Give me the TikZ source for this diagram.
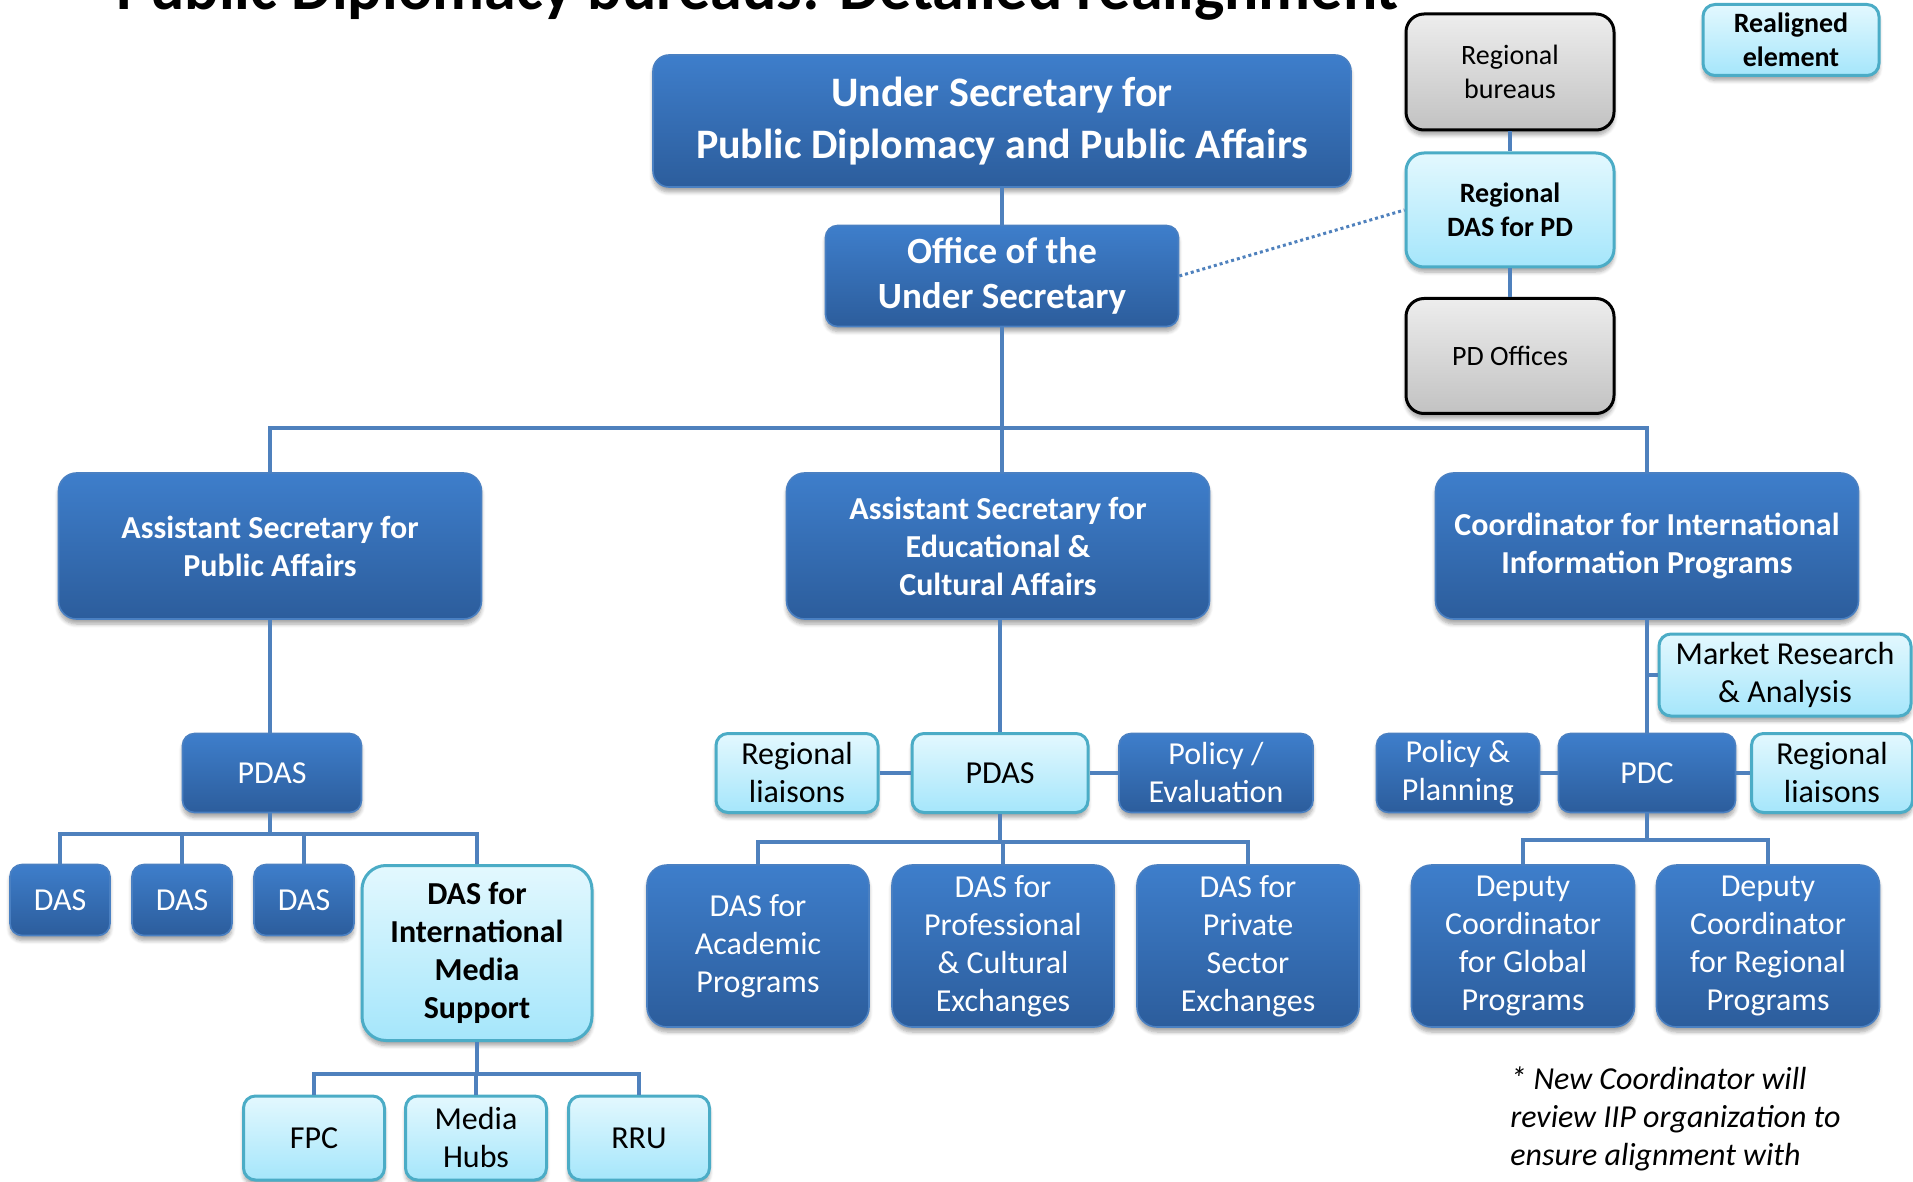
\documentclass[tikz,border=0pt]{standalone}
\usepackage{fontspec}
\setmainfont{Carlito}
\usetikzlibrary{shadows.blur}

\definecolor{darktop}{HTML}{3E7ECB}
\definecolor{darkbot}{HTML}{2C5D9C}
\definecolor{darkedge}{HTML}{4A80C2}
\definecolor{lighttop}{HTML}{E3F8FE}
\definecolor{lightbot}{HTML}{A5E6FB}
\definecolor{lightedge}{HTML}{4BACC6}
\definecolor{graytop}{HTML}{EDEDED}
\definecolor{graybot}{HTML}{C2C2C2}
\definecolor{linkblue}{HTML}{4F81BD}

\tikzset{
  box/.style={rounded corners=6pt, align=center, inner sep=2pt,
    blur shadow={shadow xshift=0pt, shadow yshift=-2.5pt, shadow blur steps=6, shadow opacity=35}},
  darkbox/.style={box, top color=darktop, bottom color=darkbot, draw=darkedge, line width=0.8pt, text=white},
  lightbox/.style={box, top color=lighttop, bottom color=lightbot, draw=lightedge, line width=1.5pt, text=black},
  graybox/.style={box, top color=graytop, bottom color=graybot, draw=black, line width=1.5pt, text=black},
  link/.style={draw=linkblue, line width=2pt},
  ftop/.style={font=\fontsize{21}{26}\selectfont\bfseries},
  foffice/.style={font=\fontsize{18.5}{22.5}\selectfont\bfseries},
  flevel/.style={font=\fontsize{16}{19}\selectfont\bfseries},
  fbox/.style={font=\fontsize{16}{19}\selectfont},
  fsmall/.style={font=\fontsize{14}{17}\selectfont},
  fsmallb/.style={font=\fontsize{14}{17}\selectfont\bfseries},
}

\begin{document}
\begin{tikzpicture}[x=0.5pt,y=-0.5pt]
\useasboundingbox (0,0) rectangle (1913,1182);

\node[anchor=base west, inner sep=0, font=\fontsize{32}{38}\selectfont\bfseries] (title) at (116,10) {Public Diplomacy bureaus: Detailed realignment};

\node[darkbox, ftop, rounded corners=8pt, minimum width=349pt, minimum height=66pt] (under) at (1002,121) {Under Secretary for\\Public Diplomacy and Public Affairs};
\node[darkbox, foffice, minimum width=176.5pt, minimum height=50.5pt] (office) at (1002,276) {Office of the\\Under Secretary};

\node[graybox, fsmall, rounded corners=9pt, minimum width=104pt, minimum height=58pt] (regbur) at (1510,72) {Regional\\bureaus};
\node[lightbox, fsmallb, rounded corners=9pt, minimum width=104pt, minimum height=57pt] (regdas) at (1510,210) {Regional\\DAS for PD};
\node[graybox, fsmall, rounded corners=9pt, minimum width=104pt, minimum height=57.5pt] (pdoff) at (1510,356) {PD Offices};
\node[lightbox, fsmallb, minimum width=88pt, minimum height=35.5pt] (legend) at (1791,40) {Realigned\\element};

\node[darkbox, flevel, rounded corners=9pt, minimum width=211.5pt, minimum height=73pt] (aspa) at (270,546) {Assistant Secretary for\\Public Affairs};
\node[darkbox, flevel, rounded corners=9pt, minimum width=211.5pt, minimum height=73pt] (aseca) at (998,546) {Assistant Secretary for\\Educational \&\\Cultural Affairs};
\node[darkbox, flevel, rounded corners=9pt, minimum width=211.5pt, minimum height=73pt] (ciip) at (1647,546) {Coordinator for International\\Information Programs};

\node[darkbox, fbox, minimum width=89.5pt, minimum height=39.5pt] (pdasL) at (272,773) {PDAS};
\node[darkbox, fbox, minimum width=50pt, minimum height=35.5pt] (das1) at (60,900) {DAS};
\node[darkbox, fbox, minimum width=50pt, minimum height=35.5pt] (das2) at (182,900) {DAS};
\node[darkbox, fbox, minimum width=50pt, minimum height=35.5pt] (das3) at (304,900) {DAS};
\node[lightbox, flevel, rounded corners=12pt, minimum width=115pt, minimum height=87.5pt] (dasims) at (477,953) {DAS for\\International\\Media\\Support};
\node[lightbox, fbox, minimum width=70.5pt, minimum height=42pt] (fpc) at (314,1138) {FPC};
\node[lightbox, fbox, minimum width=70.5pt, minimum height=42pt] (hubs) at (476,1138) {Media\\Hubs};
\node[lightbox, fbox, minimum width=70.5pt, minimum height=42pt] (rru) at (639,1138) {RRU};

\node[lightbox, fbox, minimum width=88pt, minimum height=39.5pt] (pdasM) at (1000,773) {PDAS};
\node[lightbox, fbox, minimum width=81pt, minimum height=39.5pt] (regliaM) at (797,773) {Regional\\liaisons};
\node[darkbox, fbox, minimum width=97pt, minimum height=39.5pt] (poleval) at (1216,773) {Policy /\\Evaluation};
\node[darkbox, fbox, rounded corners=10pt, minimum width=111pt, minimum height=81pt] (dasacad) at (758,946) {DAS for\\Academic\\Programs};
\node[darkbox, fbox, rounded corners=10pt, minimum width=111pt, minimum height=81pt] (dasprof) at (1003,946) {DAS for\\Professional\\\& Cultural\\Exchanges};
\node[darkbox, fbox, rounded corners=10pt, minimum width=111pt, minimum height=81pt] (daspriv) at (1248,946) {DAS for\\Private\\Sector\\Exchanges};

\node[lightbox, fbox, minimum width=126pt, minimum height=41pt] (market) at (1785,675) {Market Research\\\& Analysis};
\node[darkbox, fbox, minimum width=81.5pt, minimum height=39.5pt] (polplan) at (1458,773) {Policy \&\\Planning};
\node[darkbox, fbox, minimum width=88.5pt, minimum height=39.5pt] (pdc) at (1647,773) {PDC};
\node[lightbox, fbox, minimum width=80.5pt, minimum height=39.5pt] (regliaR) at (1832,773) {Regional\\liaisons};
\node[darkbox, fbox, rounded corners=10pt, minimum width=111.5pt, minimum height=81pt] (depglob) at (1523,946) {Deputy\\Coordinator\\for Global\\Programs};
\node[darkbox, fbox, rounded corners=10pt, minimum width=111.5pt, minimum height=81pt] (depreg) at (1768,946) {Deputy\\Coordinator\\for Regional\\Programs};

\node[anchor=north west, inner sep=0, align=left, font=\fontsize{16}{19}\selectfont\itshape] (note) at (1510,1066) {* New Coordinator will\\review IIP organization to\\ensure alignment with};

\coordinate (busTop) at (1002,428);
\coordinate (busL) at (270,834);
\coordinate (busIMS) at (477,1074);
\coordinate (busM) at (1000,842);
\coordinate (busR) at (1647,840);

\draw[link] (under) -- (office);
\draw[link] (office.south) -- (office.south |- aseca.north);
\draw[link] (aspa.north) |- (busTop) -| (ciip.north);
\draw[link] (regbur) -- (regdas) -- (pdoff);
\draw[draw=linkblue, line width=1.5pt, dash pattern=on 1.5pt off 1.5pt] (office.east) -- (regdas.west);

\draw[link] (aspa.south) -- (aspa.south |- pdasL.north);
\draw[link] (aspa.south |- pdasL.south) -- (busL);
\foreach \n in {das1,das2,das3,dasims}
  \draw[link] (busL) -| (\n.north);
\draw[link] (dasims) -- (busIMS);
\foreach \n in {fpc,hubs,rru}
  \draw[link] (busIMS) -| (\n.north);

\draw[link] (pdasM.north |- aseca.south) -- (pdasM.north);
\draw[link] (regliaM) -- (pdasM) -- (poleval);
\draw[link] (pdasM) -- (busM);
\foreach \n in {dasacad,dasprof,daspriv}
  \draw[link] (busM) -| (\n.north);

\draw[link] (ciip) -- (pdc);
\draw[link] (market.west) -- (market.west -| pdc.north);
\draw[link] (polplan) -- (pdc) -- (regliaR);
\draw[link] (pdc) -- (busR);
\foreach \n in {depglob,depreg}
  \draw[link] (busR) -| (\n.north);
\end{tikzpicture}
\end{document}
